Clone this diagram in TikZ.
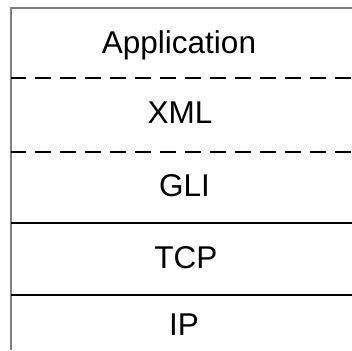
\documentclass[tikz,border=0pt]{standalone}
\usepackage{fontspec}
\setmainfont{Liberation Sans}
\usetikzlibrary{positioning,calc}

\begin{document}
\begin{tikzpicture}[
    x=1pt, y=-1pt,
    layer/.style={anchor=base, inner sep=0pt, font=\fontsize{31.5}{36}\selectfont},
    frame/.style={draw=gray, line width=1.8pt},
    solidsep/.style={draw=black, line width=2pt},
    dashsep/.style={solidsep, dash pattern=on 16pt off 9pt, dash phase=1pt}
]
    % Bounding box
    \useasboundingbox (0,0) rectangle (352,350);
    % Frame
    \coordinate (tr) at (352,7.7);
    \coordinate (tl) at (11,7.7);
    \coordinate (bl) at (11,350);
    \draw[frame] (tr) -- (tl) -- (bl);
    % Layers
    \node[layer] (app) at (179,53.2) {Application};
    \node[layer] (xml) at (180,123.5) {XML};
    \node[layer] (gli) at (184.5,196.7) {GLI};
    \node[layer] (tcp) at (185.8,268.3) {TCP};
    \node[layer] (ip)  at (184,335) {IP};
    % Separators
    \foreach \y/\s in {78.3/dashsep, 151.7/dashsep, 223.3/solidsep, 295/solidsep}
        \draw[\s] (tl |- 0,\y) -- (tr |- 0,\y);
\end{tikzpicture}
\end{document}
